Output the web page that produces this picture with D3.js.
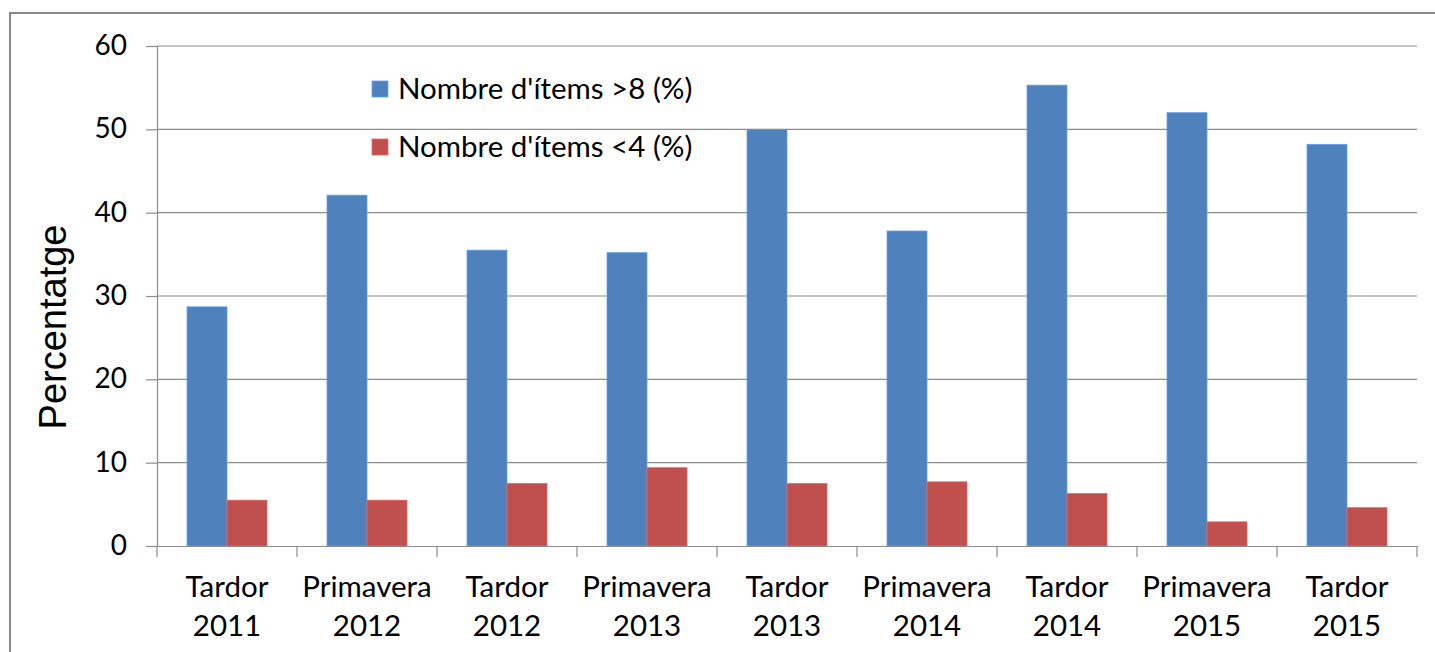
<!DOCTYPE html>
<html><head><meta charset="utf-8">
<script src="https://cdn.jsdelivr.net/npm/d3@7"></script>
<style>body{margin:0;background:#fff}svg{display:block}</style>
</head><body>
<script>
const categories = [["Tardor","2011"],["Primavera","2012"],["Tardor","2012"],["Primavera","2013"],["Tardor","2013"],["Primavera","2014"],["Tardor","2014"],["Primavera","2015"],["Tardor","2015"]];
const seriesNames = ["Nombre d'ítems >8 (%)","Nombre d'ítems <4 (%)"];
const above8 = [28.7, 42.1, 35.5, 35.2, 50.0, 37.8, 55.3, 52.0, 48.2];
const below4 = [5.5, 5.5, 7.5, 9.4, 7.5, 7.7, 6.3, 2.9, 4.6];
const yTicks = [0,10,20,30,40,50,60];
const colors = ["#4F81BD","#C0504D"];

const W=1435,H=652;
const m={left:157,top:46,right:1417,bottom:546};
const svg=d3.select("body").append("svg").attr("width",W).attr("height",H);
svg.append("rect").attr("x",10).attr("y",13).attr("width",W).attr("height",H).attr("fill","none").attr("stroke","#888").attr("stroke-width",2);

const x=d3.scaleBand().domain(d3.range(categories.length)).range([m.left,m.right]).paddingInner(0).paddingOuter(0);
const y=d3.scaleLinear().domain([0,60]).range([m.bottom,m.top]);
const font="Lato, sans-serif";
const fs=29.5;

// gridlines
svg.append("g").selectAll("line").data(yTicks.filter(d=>d>0)).join("line")
 .attr("x1",m.left).attr("x2",m.right).attr("y1",d=>y(d)).attr("y2",d=>y(d)).attr("stroke","#8c8c8c").attr("stroke-width",1.2);

// y axis
const ya=svg.append("g").attr("transform",`translate(${m.left},0)`).call(d3.axisLeft(y).tickValues(yTicks).tickSize(11).tickPadding(19));
ya.select(".domain").attr("stroke","#8c8c8c").attr("stroke-width",1.2);
ya.selectAll(".tick line").attr("stroke","#8c8c8c").attr("stroke-width",1.2);
ya.selectAll("text").attr("font-family",font).attr("font-size",28).attr("fill","#000").attr("dy","0.3em");

// bars
const sub=d3.scaleBand().domain([0,1]).range([0,x.bandwidth()]).paddingOuter(0.75).paddingInner(0);
[above8,below4].forEach((vals,si)=>{
 svg.append("g").selectAll("rect").data(vals).join("rect")
  .attr("x",(d,i)=>x(i)+sub(si)).attr("width",sub.bandwidth())
  .attr("y",d=>y(d)).attr("height",d=>y(0)-y(d))
  .attr("fill",colors[si]).attr("stroke",d3.color(colors[si]).brighter(0.6)).attr("stroke-width",0.8);
});

// x axis
const xa=svg.append("g").attr("transform",`translate(0,${m.bottom})`).call(d3.axisBottom(x).tickSize(0).tickFormat(""));
xa.select(".domain").attr("stroke","#8c8c8c").attr("stroke-width",1.2);
svg.append("g").selectAll("line").data(d3.range(categories.length+1)).join("line")
 .attr("x1",d=>m.left+d*x.step()).attr("x2",d=>m.left+d*x.step()).attr("y1",m.bottom).attr("y2",m.bottom+11).attr("stroke","#8c8c8c").attr("stroke-width",1.2);
const lbl=svg.append("g").selectAll("text").data(categories).join("text")
 .attr("x",(d,i)=>x(i)+x.bandwidth()/2).attr("text-anchor","middle").attr("font-family",font).attr("font-size",fs).attr("fill","#000");
lbl.append("tspan").attr("x",(d,i)=>x(i)+x.bandwidth()/2).attr("y",597).text(d=>d[0]);
lbl.append("tspan").attr("x",(d,i)=>x(i)+x.bandwidth()/2).attr("y",636).text(d=>d[1]);

// y title
svg.append("text").attr("transform","translate(66,327) rotate(-90)").attr("text-anchor","middle")
 .attr("font-family","Liberation Sans, Arial, sans-serif").attr("font-size",38).attr("fill","#000").text("Percentatge");

// legend
const lg=svg.append("g").selectAll("g").data(seriesNames).join("g").attr("transform",(d,i)=>`translate(372,${81+i*58})`);
lg.append("rect").attr("width",16).attr("height",16).attr("fill",(d,i)=>colors[i]).attr("stroke",(d,i)=>d3.color(colors[i]).brighter(0.6)).attr("stroke-width",0.8);
lg.append("text").attr("x",26).attr("y",18).attr("font-family",font).attr("font-size",fs).attr("fill","#000").text(d=>d);
</script>
</body></html>
